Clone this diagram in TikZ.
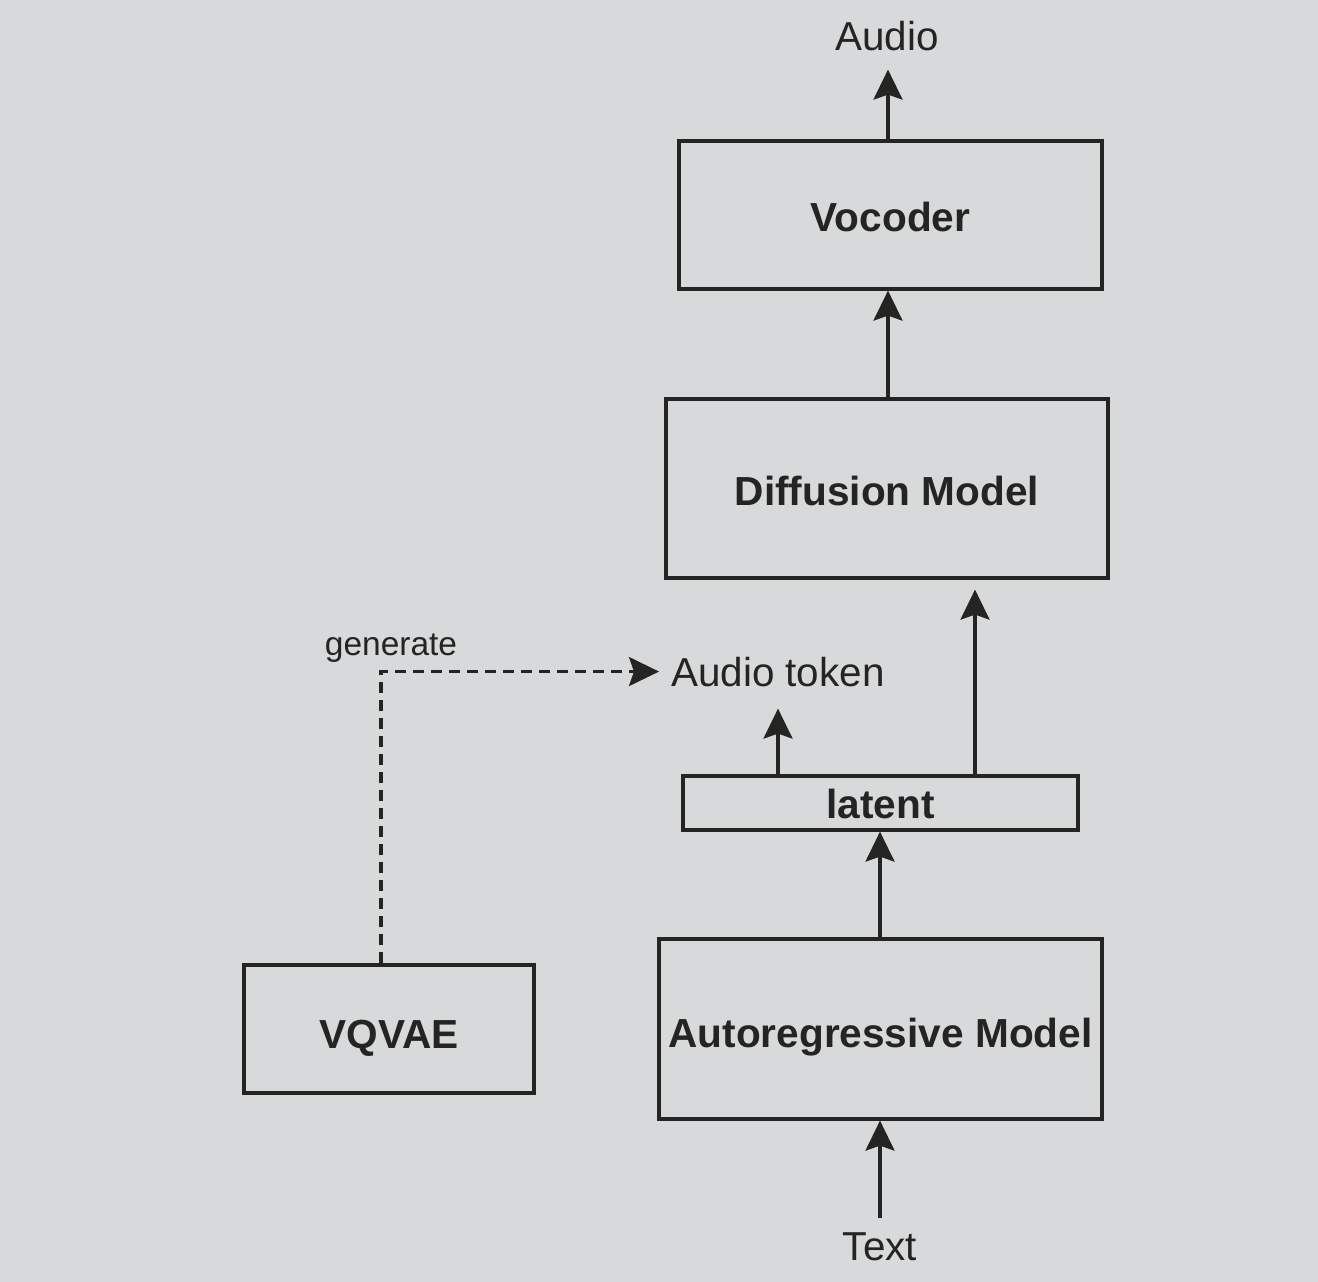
\documentclass[tikz,border=0pt]{standalone}
\usepackage{fontspec}
\setmainfont{Liberation Sans}
\usetikzlibrary{arrows.meta}
\definecolor{bg}{HTML}{D8D9DB}
\definecolor{ink}{HTML}{242422}
\tikzset{
  box/.style={draw=ink, line width=3.2pt, inner sep=0pt, text=ink,
    text depth=0pt, font=\fontsize{40.6}{48}\selectfont\bfseries},
  lbl/.style={inner sep=0pt, text=ink, font=\fontsize{40.4}{48}\selectfont},
  small/.style={inner sep=0pt, text=ink, font=\fontsize{33.5}{40}\selectfont},
  arr/.style={draw=ink, line width=3.2pt,
    -{Stealth[length=30pt, width=29pt, inset=5pt]}},
  darr/.style={arr, dash pattern=on 11pt off 7pt}
}
\begin{document}
\begin{tikzpicture}[x=1pt,y=-1pt]
\useasboundingbox (0,0) rectangle (1318,1282);
\fill[bg] (0,0) rectangle (1318,1282);

% boxes
\node[box, text height=32pt, minimum width=423pt, minimum height=148pt] (voc) at (890.5,215) {Vocoder};
\node[box, text height=34pt, minimum width=442pt, minimum height=179pt] (diff) at (887,488.5) {Diffusion Model};
\node[box, text height=30pt, minimum width=395pt, minimum height=54pt] (lat) at (880.5,803) {latent};
\node[box, text height=36pt, minimum width=443pt, minimum height=180pt] (ar) at (880.5,1029) {Autoregressive Model};
\node[box, text height=38pt, minimum width=290pt, minimum height=128pt] (vq) at (389,1029) {VQVAE};

% labels
\node[lbl, anchor=base] (audio) at (887,50) {Audio};
\node[lbl, anchor=base west] (tok) at (671,686) {Audio token};
\node[lbl, anchor=base] (txt) at (880,1260) {Text};
\node[small, anchor=base] (gen) at (391,655) {generate};

% helper x positions
\coordinate (xa) at (888,0);
\coordinate (xb) at (975,0);
\coordinate (xc) at (778,0);
\coordinate (xd) at (381,0);
\coordinate (xe) at (880,0);

% connectors
\draw[arr, shorten >=19pt] (voc.north -| xa) -- (audio.south -| xa);
\draw[arr] (diff.north -| xa) -- (voc.south -| xa);
\draw[arr, shorten >=10pt] (lat.north -| xb) -- (diff.south -| xb);
\draw[arr, shorten >=22pt] (lat.north -| xc) -- (tok.south -| xc);
\draw[arr] (ar.north -| xe) -- (lat.south -| xe);
\draw[arr, shorten <=14pt] (txt.north -| xe) -- (ar.south -| xe);
\draw[darr, shorten >=12pt] (vq.north -| xd) |- (tok.west);
\end{tikzpicture}
\end{document}
